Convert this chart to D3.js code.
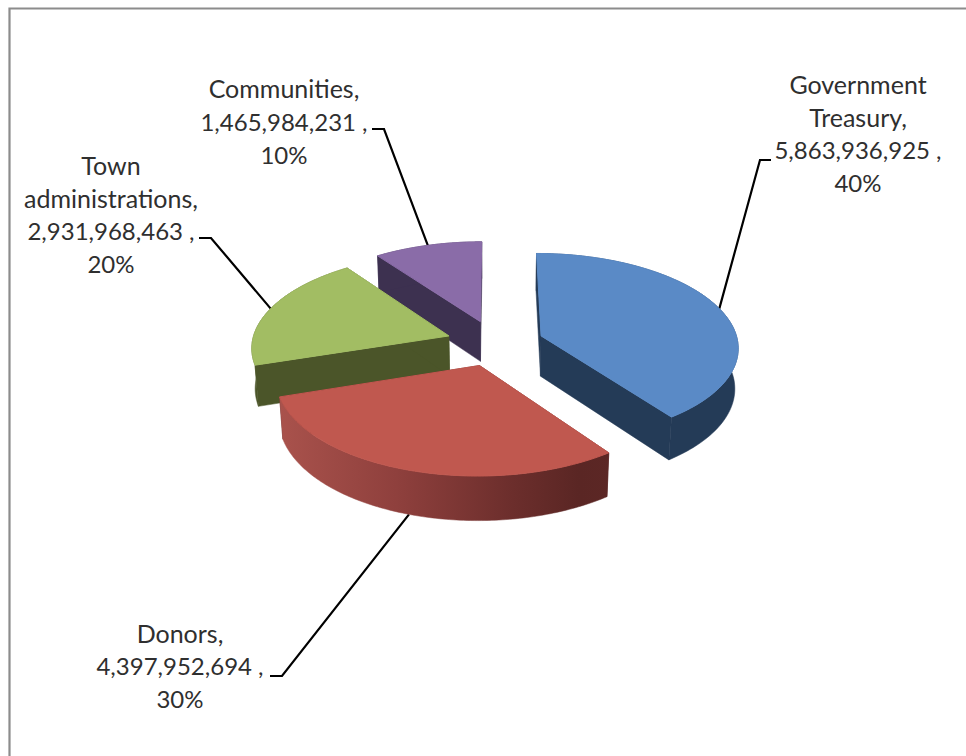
<!DOCTYPE html>
<html>
<head>
<meta charset="utf-8">
<style>
  html, body { margin: 0; padding: 0; background: #fff; }
  svg { display: block; }
  text { font-family: Lato, "Open Sans", sans-serif; fill: #2f2f2f; }
</style>
<script src="https://cdnjs.cloudflare.com/ajax/libs/d3/7.8.5/d3.min.js"></script>
</head>
<body>
<script>
const categories = ["Government Treasury", "Donors", "Town administrations", "Communities"];
const values = [5863936925, 4397952694, 2931968463, 1465984231];
const topColors = ["#5a8ac6", "#c0584f", "#a2bd63", "#8a6ca8"];
const wallColors = ["#243b57", "#5a2624", "#4b5529", "#3d3150"];
const labelLines = [
  ["Government", "Treasury,"],
  ["Donors,"],
  ["Town", "administrations,"],
  ["Communities,"]
];
const labelAnchors = [[858, 94], [180, 642.7], [111, 175], [284, 98.3]];
const leaderBends = [[[760, 160], [771, 160]], [[282, 676], [270, 676]], [[211, 238], [199, 238]], [[384, 129], [372, 129]]];
const paintOrder = [3, 2, 0, 1];
const redWallStops = [[0, "#a9524c"], [0.35, "#8f403d"], [0.7, "#6c2e2c"], [0.9, "#5a2624"], [1, "#5c2725"]];

const width = 966, height = 756;
const svg = d3.select("body").append("svg").attr("width", width).attr("height", height);

// Chart frame: open to the window's right and bottom edges.
svg.append("path")
  .attr("d", `M9.5,${height}V8.5H${width}`)
  .attr("fill", "none").attr("stroke", "#8c8c8c").attr("stroke-width", 2.2);

const slices = d3.pie().sort(null).value(d => d)(values);
const total = d3.sum(values);
const fmt = d3.format(",");

// Perspective view of the disc: unit-radius plane coordinates, y towards the back.
const view = { cx: 495, cy: 343, sx: 197, sy: 93, persp: 0.11, thickness: 41, depthPersp: 0.014, explode: 0.248 };
function project(px, py, low) {
  const w = 1 + view.persp * py + (low ? view.depthPersp : 0);
  return [view.cx + view.sx * px / w, view.cy + (-view.sy * py + (low ? view.thickness : 0)) / w];
}
const midAngle = s => (s.startAngle + s.endAngle) / 2;
function apexOf(s) {
  const mid = midAngle(s);
  return [view.explode * Math.sin(mid), view.explode * Math.cos(mid)];
}
function rimPoint(s, angle) {
  const a = apexOf(s);
  return [a[0] + Math.sin(angle), a[1] + Math.cos(angle)];
}
const polyline = d3.line();

const defs = svg.append("defs");
const rimX = d3.scaleLinear().domain([0, 1]).range([280, 612]);
const grad = defs.append("linearGradient").attr("id", "donorsWall")
  .attr("gradientUnits", "userSpaceOnUse")
  .attr("x1", rimX(0)).attr("x2", rimX(1)).attr("y1", 0).attr("y2", 0);
grad.selectAll("stop").data(redWallStops).join("stop")
  .attr("offset", d => d[0]).attr("stop-color", d => d[1]);

// Leader lines leave each slice at its mid angle and sit beneath the disc.
const leaders = svg.append("g");
slices.forEach((s, i) => {
  const rim = rimPoint(s, midAngle(s));
  const anchor = project(rim[0], rim[1], i === 1);
  leaders.append("path")
    .attr("d", polyline([anchor, ...leaderBends[i]]))
    .attr("fill", "none").attr("stroke", "#000").attr("stroke-width", 2.2);
});

const disc = svg.append("g");
paintOrder.forEach(i => {
  const s = slices[i];
  const a = apexOf(s);
  const angles = d3.range(0, 121).map(k => s.startAngle + (s.endAngle - s.startAngle) * k / 120);
  const rim = angles.map(t => rimPoint(s, t));
  const g = disc.append("g");
  const wall = wallColors[i];
  // Flat cut faces running from the centre out to each end of the arc.
  [rim[0], rim[rim.length - 1]].forEach(end => {
    g.append("path").attr("fill", wall).attr("stroke", wall).attr("stroke-width", 0.5)
      .attr("d", polyline([
        project(a[0], a[1], false), project(end[0], end[1], false),
        project(end[0], end[1], true), project(a[0], a[1], true)
      ]) + "Z");
  });
  // Curved outer wall.
  const wallPaint = i === 1 ? "url(#donorsWall)" : wall;
  g.append("path")
    .attr("fill", wallPaint).attr("stroke", wallPaint).attr("stroke-width", 0.5)
    .attr("d", polyline([
      ...rim.map(p => project(p[0], p[1], false)),
      ...rim.slice().reverse().map(p => project(p[0], p[1], true))
    ]) + "Z");
  // Top face, stroked in its own colour to cover the walls behind its edge.
  g.append("path").attr("fill", topColors[i]).attr("stroke", topColors[i]).attr("stroke-width", 1)
    .attr("stroke-linejoin", "round")
    .attr("d", polyline([
      project(a[0], a[1], false), ...rim.map(p => project(p[0], p[1], false))
    ]) + "Z");
});

// Data labels: name, value and share, one centred line each.
const lineStep = 32.6;
labelLines.forEach((lines, i) => {
  const rows = [
    ...lines.map(t => ({ t, size: 25 })),
    { t: fmt(values[i]) + " ,", size: 24 },
    { t: d3.format(".0%")(values[i] / total), size: 24 }
  ];
  svg.append("text")
    .attr("text-anchor", "middle")
    .selectAll("tspan").data(rows).join("tspan")
    .attr("x", labelAnchors[i][0])
    .attr("y", (d, k) => labelAnchors[i][1] + k * lineStep)
    .attr("font-size", d => d.size)
    .text(d => d.t);
});
</script>
</body>
</html>
